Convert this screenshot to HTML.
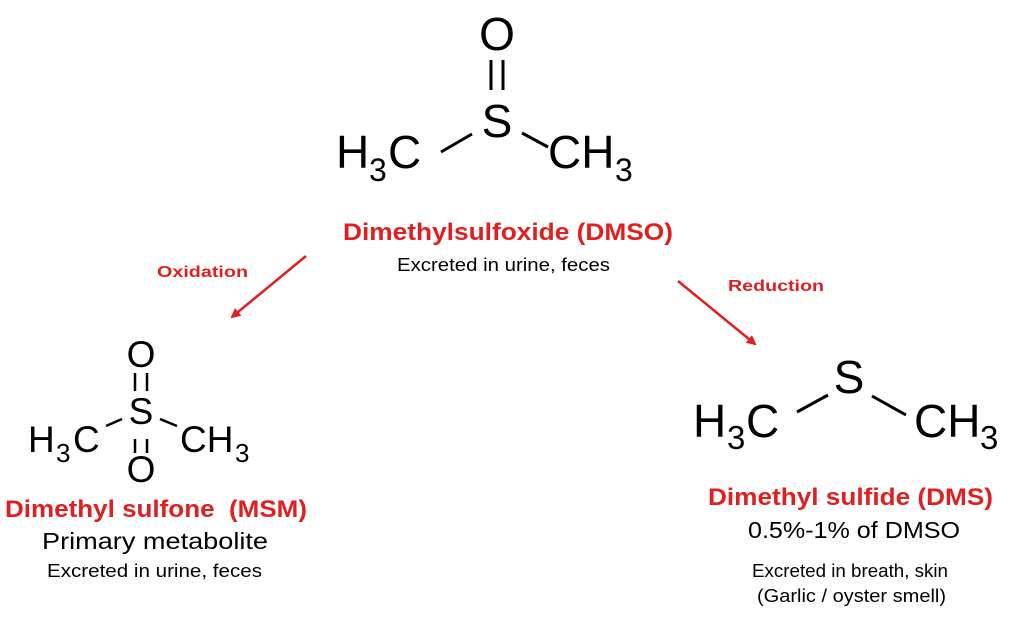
<!DOCTYPE html>
<html><head><meta charset="utf-8"><style>
html,body{margin:0;padding:0;background:#fff;}
svg{display:block;font-family:"Liberation Sans",sans-serif;}
.r{fill:#e02020;font-weight:bold;}
</style></head><body>
<svg width="1024" height="626" viewBox="0 0 1024 626" xmlns="http://www.w3.org/2000/svg">
<defs><marker id="ah" markerWidth="10" markerHeight="10" refX="8" refY="5" orient="auto" markerUnits="userSpaceOnUse"><path d="M0,0 L10,5 L0,10 z" fill="#e02020"/></marker></defs>
<!-- DMSO -->
<g font-size="46" fill="#000">
<text x="497" y="50" text-anchor="middle">O</text>
<text x="497" y="137" text-anchor="middle">S</text>
<text x="336" y="168">H</text><text x="369" y="181" font-size="32">3</text><text x="388" y="168">C</text>
<text x="548" y="168">CH</text><text x="615" y="181" font-size="32">3</text>
</g>
<g stroke="#000" stroke-width="3">
<line x1="491" y1="60" x2="491" y2="90"/><line x1="503" y1="60" x2="503" y2="90"/>
<line x1="441" y1="152" x2="472" y2="134"/><line x1="522" y1="133" x2="548" y2="147"/>
</g>
<text x="343" y="240" class="r" font-size="24" textLength="330" lengthAdjust="spacingAndGlyphs">Dimethylsulfoxide (DMSO)</text>
<text x="397" y="271" font-size="18" textLength="213" lengthAdjust="spacingAndGlyphs">Excreted in urine, feces</text>
<!-- arrows -->
<g stroke="#e02020" stroke-width="2.5">
<line x1="306" y1="256" x2="232" y2="317" marker-end="url(#ah)"/>
<line x1="678" y1="281" x2="755" y2="344" marker-end="url(#ah)"/>
</g>
<text x="157" y="277" class="r" font-size="16" textLength="91" lengthAdjust="spacingAndGlyphs">Oxidation</text>
<text x="728" y="291" class="r" font-size="16" textLength="96" lengthAdjust="spacingAndGlyphs">Reduction</text>
<!-- MSM -->
<g font-size="37" fill="#000">
<text x="141" y="367" text-anchor="middle">O</text>
<text x="141" y="424" text-anchor="middle">S</text>
<text x="141" y="482" text-anchor="middle">O</text>
<text x="28" y="452">H</text><text x="56" y="462" font-size="26">3</text><text x="73" y="452">C</text>
<text x="180" y="452">CH</text><text x="235" y="462" font-size="26">3</text>
</g>
<g stroke="#000" stroke-width="2.5">
<line x1="135" y1="373" x2="135" y2="391"/><line x1="147" y1="373" x2="147" y2="391"/>
<line x1="135" y1="439" x2="135" y2="453"/><line x1="147" y1="439" x2="147" y2="453"/>
<line x1="106" y1="426" x2="122" y2="419"/><line x1="160" y1="419" x2="177" y2="426"/>
</g>
<text x="5" y="517" class="r" font-size="24" textLength="302" lengthAdjust="spacingAndGlyphs" xml:space="preserve">Dimethyl sulfone  (MSM)</text>
<text x="42" y="549" font-size="23" textLength="226" lengthAdjust="spacingAndGlyphs">Primary metabolite</text>
<text x="47" y="577" font-size="18" textLength="215" lengthAdjust="spacingAndGlyphs">Excreted in urine, feces</text>
<!-- DMS -->
<g font-size="46" fill="#000">
<text x="849" y="393" text-anchor="middle">S</text>
<text x="693" y="437">H</text><text x="727" y="449" font-size="33">3</text><text x="746" y="437">C</text>
<text x="914" y="437">CH</text><text x="980" y="449" font-size="33">3</text>
</g>
<g stroke="#000" stroke-width="3">
<line x1="797" y1="412" x2="828" y2="395"/><line x1="872" y1="396" x2="906" y2="415"/>
</g>
<text x="708" y="505" class="r" font-size="24" textLength="285" lengthAdjust="spacingAndGlyphs">Dimethyl sulfide (DMS)</text>
<text x="748" y="538" font-size="23" textLength="212" lengthAdjust="spacingAndGlyphs">0.5%-1% of DMSO</text>
<text x="752" y="577" font-size="18" textLength="196" lengthAdjust="spacingAndGlyphs">Excreted in breath, skin</text>
<text x="757" y="602" font-size="18" textLength="189" lengthAdjust="spacingAndGlyphs">(Garlic / oyster smell)</text>
</svg>
</body></html>
